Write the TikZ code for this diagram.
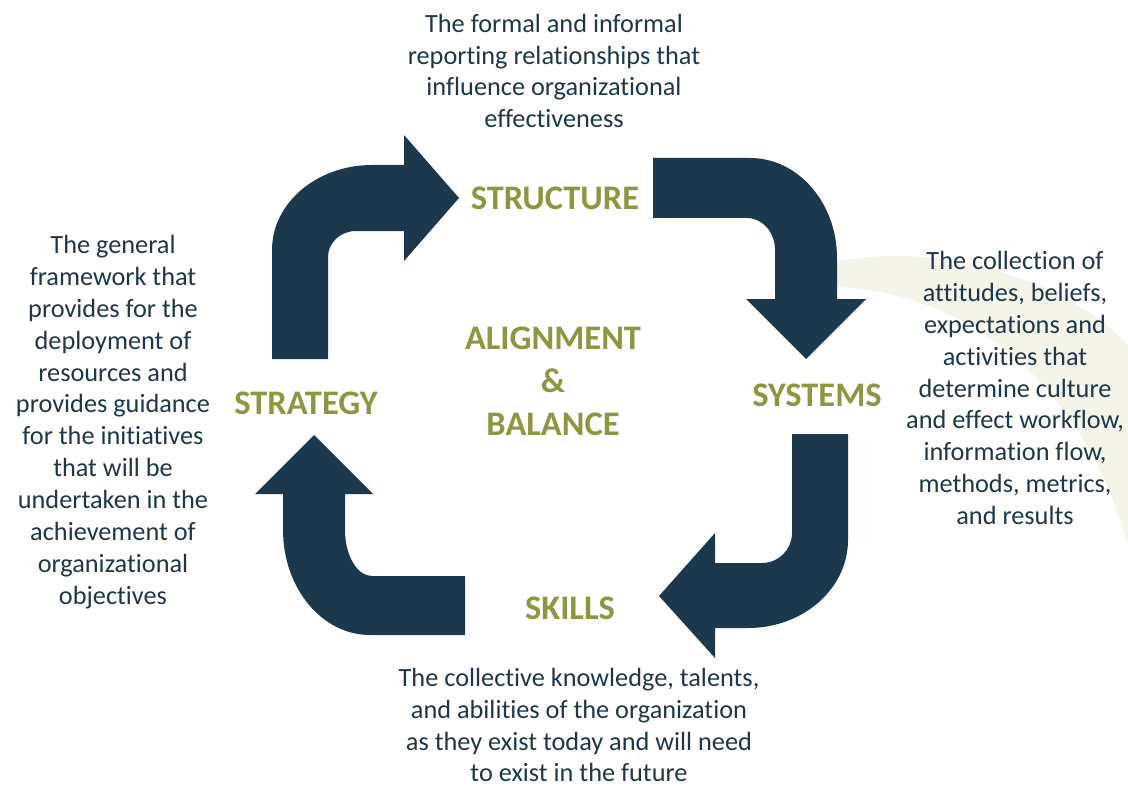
\documentclass[tikz,border=0pt]{standalone}
\usepackage{fontspec}
\setmainfont[Ligatures={NoCommon}]{Carlito}
\usepackage{tikz}
\usetikzlibrary{positioning}

\definecolor{navy}{RGB}{27,56,76}
\definecolor{olivegreen}{RGB}{143,150,64}
\definecolor{paleband}{RGB}{244,244,232}

\begin{document}
\begin{tikzpicture}
	[   x=0.025cm,y=-0.025cm,
	    lbl/.style={text=olivegreen,inner sep=0pt,align=center,font=\bfseries\fontsize{24.5}{30.5}\selectfont},
	]
	\tikzset{desc/.style={text=navy,inner sep=0pt,align=center,font=\fontsize{18.7}{22.7}\selectfont}}
	\tikzset{bend arrow/.style={fill=navy,draw=none}}
	\useasboundingbox (0,0) rectangle (1128,787);
	
	% faint background band
	\fill[paleband] (835,262) .. controls (950,238) and (1080,290) .. (1128,345) -- (1128,545) .. controls (1090,405) and (985,292) .. (835,287) -- cycle;
	
	% the four bent arrows
	\path[bend arrow] (272,359) -- (272,250) arc[start angle=180,end angle=270,x radius=100,y radius=85] -- (404,165) -- (404,135) -- (459,198) -- (404,261) -- (404,231) -- (356,231) arc[start angle=270,end angle=180,x radius=28,y radius=26] -- (328,359) -- cycle;
	
	\path[bend arrow] (653,158) -- (750,158) arc[start angle=270,end angle=360,x radius=87,y radius=100] -- (837,299) -- (866,299) -- (806,359) -- (746,299) -- (775,299) -- (775,250) arc[start angle=0,end angle=-90,x radius=28,y radius=32] -- (653,218) -- cycle;
	
	\path[bend arrow] (792,434) -- (848,434) -- (848,540) arc[start angle=0,end angle=90,x radius=100,y radius=88] -- (715,628) -- (715,658) -- (659,596) -- (715,533) -- (715,563) -- (762,563) arc[start angle=90,end angle=0,x radius=30,y radius=30] -- cycle;
	
	\path[bend arrow] (465,576) -- (372,576) arc[start angle=90,end angle=180,x radius=27,y radius=46] -- (345,494) -- (373,494) -- (314,435) -- (255,494) -- (283,494) -- (283,530) arc[start angle=180,end angle=90,x radius=87,y radius=105] -- (465,635) -- cycle;
	
	% labels
	\foreach \name/\txt/\px/\py in {struct/STRUCTURE/555/198, syst/SYSTEMS/817/395, skill/SKILLS/570/608, strat/STRATEGY/306/403}
	{
		\node[lbl] (\name) at (\px,\py) {\txt};
	}
	\node[lbl] (align) at (553,381) {ALIGNMENT\\\&\\BALANCE};
	
	% descriptions
	\node[desc] (struct-d) at (554,71) {The formal and informal\\reporting relationships that\\influence organizational\\effectiveness};
	\node[desc] (syst-d) at (1015,388) {The collection of\\attitudes, beliefs,\\expectations and\\activities that\\determine culture\\and effect workflow,\\information flow,\\methods, metrics,\\and results};
	\node[desc] (skill-d) at (579,725) {The collective knowledge, talents,\\and abilities of the organization\\as they exist today and will need\\to exist in the future};
	\node[desc] (strat-d) at (113,422) {The general\\framework that\\provides for the\\deployment of\\resources and\\provides guidance\\for the initiatives\\that will be\\undertaken in the\\achievement of\\organizational\\objectives};
\end{tikzpicture}
\end{document}
